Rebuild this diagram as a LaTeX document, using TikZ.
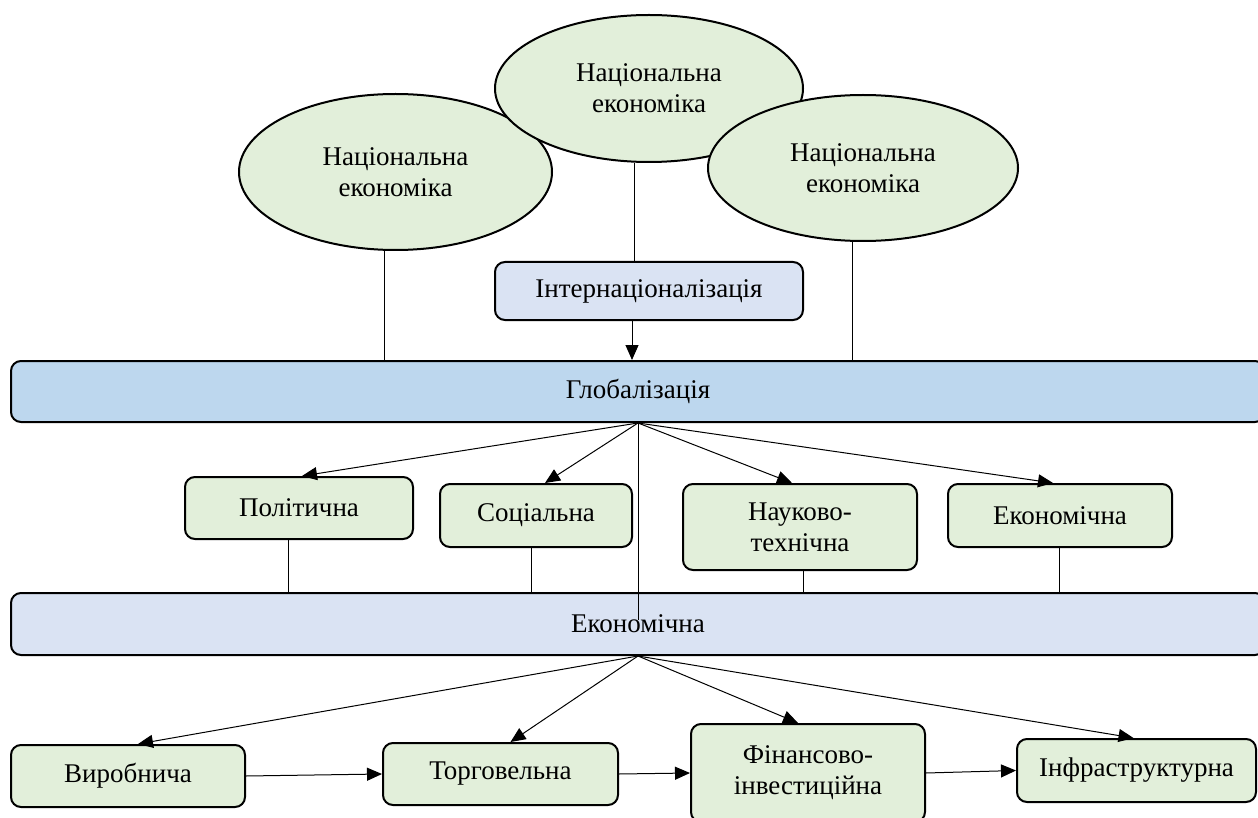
\documentclass[tikz,border=0pt]{standalone}
\usepackage{fontspec}
\setmainfont{Liberation Serif}
\usetikzlibrary{shapes.geometric,arrows.meta,calc}
\definecolor{gfill}{HTML}{E2EFDA}
\definecolor{bfill}{HTML}{DAE3F3}
\definecolor{gbfill}{HTML}{BDD7EE}
\begin{document}
\begin{tikzpicture}[x=1pt,y=-1pt,
  every node/.style={font=\fontsize{27}{31}\selectfont, align=center, inner sep=0pt},
  ell/.style={ellipse, draw, line width=2pt, fill=gfill},
  gbox/.style={rectangle, rounded corners=10pt, draw, line width=2pt, fill=gfill},
  bbox/.style={rectangle, rounded corners=10pt, draw, line width=2pt, fill=bfill},
  glbox/.style={rectangle, rounded corners=10pt, draw, line width=2pt, fill=gbfill},
  conn/.style={line width=1pt},
  arr/.style={conn, -{Triangle[length=15pt,width=13pt]}}]
\useasboundingbox (0,0) rectangle (1258,818);
\clip (0,0) rectangle (1258,818);

% ellipses
\node[ell, minimum width=313pt, minimum height=156pt] (e1) at (395.5,172) {Національна\\економіка};
\node[ell, minimum width=308pt, minimum height=147pt] (e2) at (649,88.5) {Національна\\економіка};
\node[ell, minimum width=310pt, minimum height=146pt] (e3) at (863,168) {Національна\\економіка};

% internationalization
\node[bbox, minimum width=308pt, minimum height=58pt] (intl) at (649,291) {Інтернаціоналізація};

% bars
\node[glbox, minimum width=1254pt, minimum height=61pt] (glob) at (638,391.5) {Глобалізація};
\node[bbox, minimum width=1254pt, minimum height=62pt] (econ) at (638,624) {Економічна};

% middle row
\node[gbox, minimum width=228pt, minimum height=62pt] (pol) at (299,508) {Політична};
\node[gbox, minimum width=192pt, minimum height=63pt] (soc) at (536,515.5) {Соціальна};
\node[gbox, minimum width=234pt, minimum height=86pt] (nauk) at (800,527) {Науково-\\технічна};
\node[gbox, minimum width=224pt, minimum height=63pt] (ekon) at (1060,515.5) {Економічна};

% bottom row
\node[gbox, minimum width=234pt, minimum height=62pt] (vyr) at (128,776) {Виробнича};
\node[gbox, minimum width=235pt, minimum height=62pt] (torg) at (500.5,774) {Торговельна};
\node[gbox, minimum width=234pt, minimum height=98pt] (fin) at (808,773) {Фінансово-\\інвестиційна};
\node[gbox, minimum width=239pt, minimum height=63pt] (infr) at (1136.5,770.5) {Інфраструктурна};

% ellipse connectors
\draw[conn] ([xshift=-11.5pt]e1.south) -- ([xshift=-11.5pt]e1.south |- glob.north);
\draw[conn] ([xshift=-15pt]e2.south) -- ([xshift=-15pt]e2.south |- intl.north);
\draw[conn] ([xshift=-11pt]e3.south) -- ([xshift=-11pt]e3.south |- glob.north);
\draw[arr] ([xshift=-17pt]intl.south) -- ([xshift=-17pt]intl.south |- glob.north);

% fan from globalization
\coordinate (gs) at (glob.south);
\coordinate (vend) at (638,620);
\draw[arr] (gs) -- ([xshift=3pt]pol.north);
\draw[arr] (gs) -- ([xshift=9pt]soc.north);
\draw[arr] (gs) -- ([xshift=-8pt]nauk.north);
\draw[arr] (gs) -- ([xshift=-7pt]ekon.north);
\draw[conn] (gs) -- (vend);

% middle row to econ bar
\draw[conn] ([xshift=-11pt]pol.south) -- ([xshift=-11pt]pol.south |- econ.north);
\draw[conn] ([xshift=-5pt]soc.south) -- ([xshift=-5pt]soc.south |- econ.north);
\draw[conn] ([xshift=3pt]nauk.south) -- ([xshift=3pt]nauk.south |- econ.north);
\draw[conn] ([xshift=-1pt]ekon.south) -- ([xshift=-1pt]ekon.south |- econ.north);

% fan from economic bar
\coordinate (es) at (econ.south);
\draw[arr] (es) -- ([xshift=10pt]vyr.north);
\draw[arr] (es) -- ([xshift=10pt]torg.north);
\draw[arr] (es) -- ([xshift=-10pt]fin.north);
\draw[arr] (es) -- ([xshift=-3pt]infr.north);

% bottom chain
\draw[arr] (vyr.east) -- (torg.west);
\draw[arr] (torg.east) -- (fin.west);
\draw[arr] (fin.east) -- (infr.west);
\end{tikzpicture}
\end{document}
